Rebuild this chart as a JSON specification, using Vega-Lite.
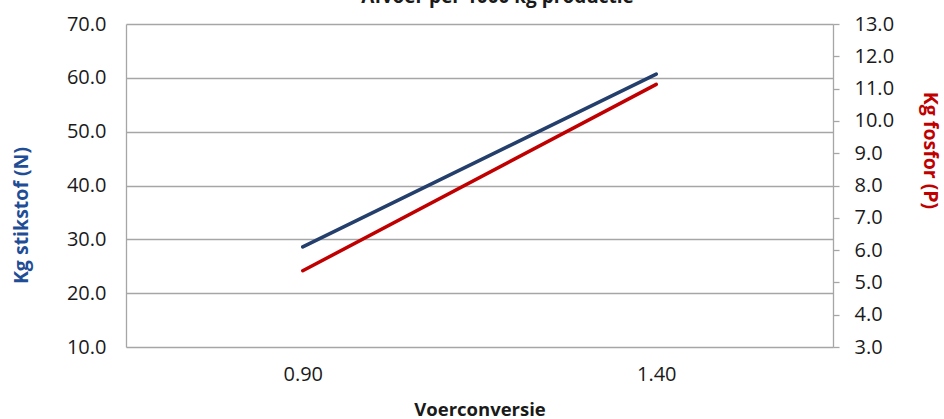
{
  "$schema": "https://vega.github.io/schema/vega-lite/v6.json",
  "width": 707,
  "height": 323,
  "autosize": {"type": "none"},
  "padding": {"left": 126, "top": 24, "right": 111, "bottom": 72},
  "background": "white",
  "config": {
    "view": {"stroke": null},
    "font": "Open Sans"
  },
  "title": {
    "text": "Afvoer per 1000 kg productie",
    "fontSize": 19,
    "fontWeight": "bold",
    "color": "#1a1a1a",
    "baseline": "alphabetic",
    "offset": -8,
    "dx": 18
  },
  "data": {
    "values": [
      {"voer": "0.90", "N": 28.6, "P": 5.36},
      {"voer": "1.40", "N": 60.7, "P": 11.13}
    ]
  },
  "encoding": {
    "x": {
      "field": "voer",
      "type": "ordinal",
      "scale": {"type": "point", "padding": 0.5},
      "axis": {
        "title": "Voerconversie",
        "titleFontSize": 18.5,
        "titleFontWeight": "bold",
        "titleColor": "#1a1a1a",
        "titlePadding": 16,
        "labelAngle": 0,
        "labelFontSize": 20,
        "labelColor": "#1a1a1a",
        "labelPadding": 17,
        "ticks": false,
        "domain": false,
        "grid": false
      }
    }
  },
  "layer": [
    {
      "mark": {"type": "line", "color": "#243f6b", "strokeWidth": 3.5, "strokeCap": "round"},
      "encoding": {
        "y": {
          "field": "N",
          "type": "quantitative",
          "scale": {"domain": [10, 70], "nice": false, "zero": false},
          "axis": {
            "orient": "left",
            "title": "Kg stikstof (N)",
            "titleFontSize": 19.5,
            "titleFontWeight": "bold",
            "titleColor": "#1f4e96",
            "titleY": 191,
            "titlePadding": 35,
            "values": [10, 20, 30, 40, 50, 60, 70],
            "format": ".1f",
            "labelFontSize": 20,
            "labelColor": "#1a1a1a",
            "labelPadding": 20,
            "ticks": false,
            "domainColor": "#a6a6a6",
            "domainWidth": 1.3,
            "grid": true,
            "gridColor": "#a6a6a6",
            "gridWidth": 1.3
          }
        }
      }
    },
    {
      "mark": {"type": "line", "color": "#c00000", "strokeWidth": 3.5, "strokeCap": "round"},
      "encoding": {
        "y": {
          "field": "P",
          "type": "quantitative",
          "scale": {"domain": [3, 13], "nice": false, "zero": false},
          "axis": {
            "orient": "right",
            "title": "Kg fosfor (P)",
            "titleFontSize": 19.5,
            "titleFontWeight": "bold",
            "titleColor": "#c00000",
            "titleY": 126,
            "titlePadding": 26,
            "values": [3, 4, 5, 6, 7, 8, 9, 10, 11, 12, 13],
            "format": ".1f",
            "labelFontSize": 20,
            "labelColor": "#1a1a1a",
            "labelPadding": 15,
            "ticks": true,
            "tickSize": 6,
            "tickColor": "#a6a6a6",
            "tickWidth": 1.3,
            "domainColor": "#a6a6a6",
            "domainWidth": 1.3,
            "grid": false
          }
        }
      }
    }
  ],
  "resolve": {"scale": {"y": "independent"}}
}
